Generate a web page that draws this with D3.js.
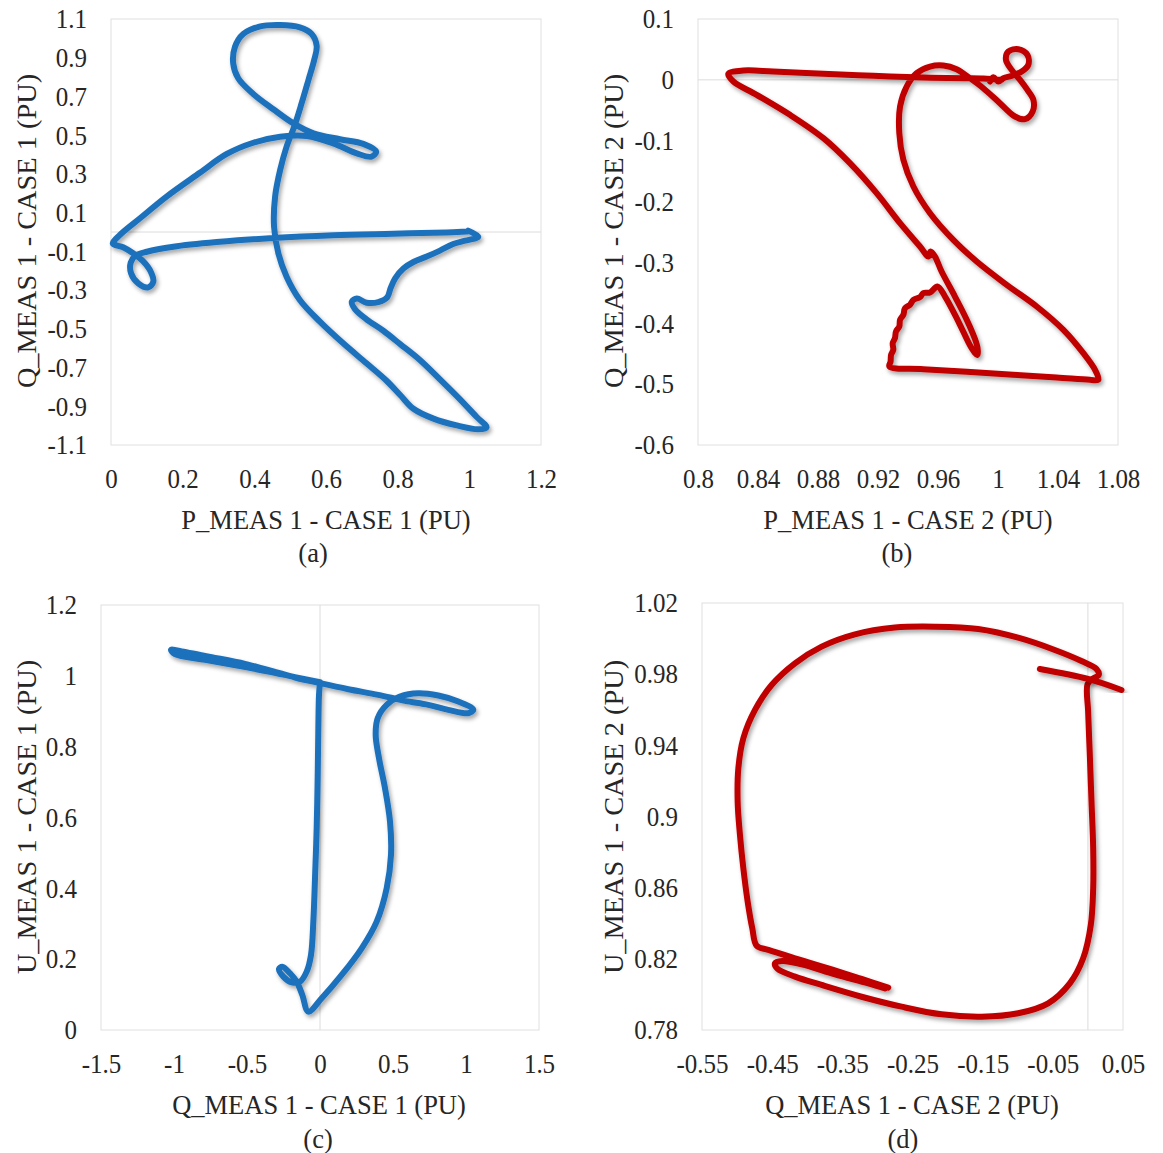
<!DOCTYPE html>
<html>
<head>
<meta charset="utf-8">
<script src="https://cdn.jsdelivr.net/npm/d3@7"></script>
<style>
  body { margin: 0; background: #fff; }
  text { font-family: "Liberation Serif", "Times New Roman", serif; fill: #262626; }
</style>
</head>
<body>
<div id="chart"></div>
<script>
// Tick values for each panel
var ticksA_x = [0, 0.2, 0.4, 0.6, 0.8, 1, 1.2];
var ticksA_y = [-1.1, -0.9, -0.7, -0.5, -0.3, -0.1, 0.1, 0.3, 0.5, 0.7, 0.9, 1.1];
var ticksB_x = [0.8, 0.84, 0.88, 0.92, 0.96, 1, 1.04, 1.08];
var ticksB_y = [-0.6, -0.5, -0.4, -0.3, -0.2, -0.1, 0, 0.1];
var ticksC_x = [-1.5, -1, -0.5, 0, 0.5, 1, 1.5];
var ticksC_y = [0, 0.2, 0.4, 0.6, 0.8, 1, 1.2];
var ticksD_x = [-0.55, -0.45, -0.35, -0.25, -0.15, -0.05, 0.05];
var ticksD_y = [0.78, 0.82, 0.86, 0.9, 0.94, 0.98, 1.02];

// (a) P vs Q, case 1  [P, Q]
var case1PQ = [[0.997,0.007],[1.025,-0.024],[0.988,-0.045],[0.955,-0.062],[0.918,-0.096],[0.881,-0.127],
  [0.844,-0.155],[0.816,-0.189],[0.793,-0.239],[0.780,-0.291],[0.771,-0.337],[0.746,-0.362],[0.713,-0.365],
  [0.686,-0.344],[0.672,-0.360],[0.681,-0.399],[0.713,-0.451],[0.760,-0.510],[0.807,-0.579],[0.862,-0.661],
  [0.918,-0.761],[0.974,-0.864],[1.020,-0.954],[1.048,-1.009],[1.025,-1.019],[0.965,-0.999],[0.900,-0.964],
  [0.844,-0.913],[0.807,-0.842],[0.769,-0.768],[0.713,-0.678],[0.648,-0.575],[0.583,-0.463],[0.527,-0.351],
  [0.490,-0.231],[0.467,-0.110],[0.455,0.028],[0.458,0.183],[0.472,0.320],[0.490,0.441],[0.513,0.553],
  [0.532,0.665],[0.551,0.785],[0.567,0.888],[0.574,0.961],[0.560,1.023],[0.527,1.057],[0.472,1.069],
  [0.414,1.061],[0.369,1.023],[0.346,0.957],[0.341,0.871],[0.355,0.794],[0.397,0.713],[0.453,0.634],
  [0.509,0.561],[0.565,0.510],[0.639,0.479],[0.704,0.455],[0.740,0.415],[0.727,0.389],[0.686,0.406],
  [0.620,0.458],[0.546,0.496],[0.472,0.492],[0.397,0.461],[0.323,0.403],[0.248,0.306],[0.155,0.183],
  [0.081,0.071],[0.025,-0.015],[0.005,-0.059],[0.034,-0.079],[0.062,-0.110],[0.088,-0.148],[0.111,-0.205],
  [0.118,-0.257],[0.104,-0.286],[0.076,-0.265],[0.056,-0.213],[0.055,-0.158],[0.067,-0.124],[0.100,-0.102],
  [0.174,-0.076],[0.295,-0.052],[0.453,-0.031],[0.620,-0.017],[0.788,-0.009],[0.937,-0.002],[0.993,0.002]];

// (b) P vs Q, case 2  [P, Q]
var case2PQ = [[1.0024,0.0000],[0.9969,0.0011],[0.9902,0.0022],[0.9769,0.0027],[0.9502,0.0038],[0.9169,0.0066],
  [0.8836,0.0099],[0.8502,0.0137],[0.8302,0.0153],[0.8202,0.0099],[0.8236,-0.0027],[0.8391,-0.0246],
  [0.8613,-0.0575],[0.8836,-0.0958],[0.9013,-0.1369],[0.9191,-0.1862],[0.9347,-0.2355],[0.9480,-0.2739],
  [0.9536,-0.2903],[0.9551,-0.2821],[0.9580,-0.2903],[0.9624,-0.3150],[0.9713,-0.3560],[0.9802,-0.3998],
  [0.9862,-0.4382],[0.9862,-0.4519],[0.9824,-0.4409],[0.9736,-0.3971],[0.9647,-0.3560],[0.9596,-0.3396],
  [0.9547,-0.3494],[0.9502,-0.3505],[0.9480,-0.3571],[0.9436,-0.3615],[0.9413,-0.3697],[0.9380,-0.3752],
  [0.9369,-0.3861],[0.9347,-0.3943],[0.9342,-0.4053],[0.9320,-0.4135],[0.9313,-0.4245],[0.9298,-0.4327],
  [0.9302,-0.4436],[0.9287,-0.4519],[0.9284,-0.4628],[0.9276,-0.4710],[0.9502,-0.4754],[0.9947,-0.4820],
  [1.0391,-0.4891],[1.0613,-0.4929],[1.0669,-0.4929],[1.0647,-0.4765],[1.0569,-0.4491],[1.0436,-0.4108],
  [1.0258,-0.3724],[1.0058,-0.3368],[0.9858,-0.2985],[0.9702,-0.2629],[0.9547,-0.2191],[0.9436,-0.1753],
  [0.9369,-0.1314],[0.9342,-0.0876],[0.9347,-0.0438],[0.9391,-0.0110],[0.9458,0.0110],[0.9547,0.0219],
  [0.9636,0.0236],[0.9724,0.0175],[0.9813,0.0027],[0.9902,-0.0137],[1.0013,-0.0383],[1.0113,-0.0602],
  [1.0180,-0.0646],[1.0231,-0.0520],[1.0236,-0.0329],[1.0196,-0.0164],[1.0147,0.0000],[1.0091,0.0164],
  [1.0053,0.0329],[1.0069,0.0466],[1.0136,0.0504],[1.0196,0.0411],[1.0202,0.0246],[1.0158,0.0137],
  [1.0091,0.0066],[1.0036,0.0027],[1.0002,-0.0027],[0.9969,0.0044],[0.9947,-0.0027]];

// (c) Q vs U, case 1  [Q, U]
var case1QU = [[0,0.9821],[-0.0068,0.9463],[-0.0114,0.8522],[-0.0160,0.7109],[-0.0228,0.5697],[-0.0342,0.4284],
  [-0.0457,0.3060],[-0.0616,0.2119],[-0.0913,0.1648],[-0.1370,0.1365],[-0.1941,0.1347],[-0.2511,0.1507],
  [-0.2808,0.1723],[-0.2580,0.1789],[-0.2055,0.1601],[-0.1598,0.1365],[-0.1210,0.0989],[-0.0799,0.0518],
  [0.0114,0.0895],[0.1484,0.1554],[0.2854,0.2307],[0.3881,0.3060],[0.4566,0.4002],[0.4863,0.4944],
  [0.4795,0.5885],[0.4452,0.6827],[0.4041,0.7674],[0.3813,0.8333],[0.3950,0.8804],[0.4566,0.9181],
  [0.5479,0.9416],[0.6735,0.9510],[0.8105,0.9444],[0.9475,0.9275],[1.0502,0.9040],[1.0160,0.8945],
  [0.8790,0.9040],[0.7420,0.9181],[0.5822,0.9294],[0.3995,0.9463],[0.1941,0.9623],[0,0.9793],
  [-0.1712,0.9953],[-0.3311,1.0141],[-0.5137,1.0339],[-0.7420,1.0527],[-0.9475,1.0687],[-1.0205,1.0734],
  [-0.9932,1.0612],[-0.7877,1.0452],[-0.5594,1.0282],[-0.3539,1.0122],[-0.1712,0.9962],[0,0.9821]];

// (d) Q vs U, case 2  [Q, U] - main loop and the short jump segment
var case2QU = [[-0.2846,0.8038],[-0.3226,0.8087],[-0.3700,0.8147],[-0.4175,0.8203],[-0.4555,0.8250],
  [-0.4721,0.8274],[-0.4783,0.8371],[-0.4849,0.8521],[-0.4911,0.8709],[-0.4959,0.8896],[-0.4992,0.9084],
  [-0.4982,0.9271],[-0.4911,0.9440],[-0.4745,0.9599],[-0.4508,0.9739],[-0.4175,0.9861],[-0.3795,0.9955],
  [-0.3320,1.0024],[-0.2751,1.0062],[-0.2181,1.0067],[-0.1564,1.0054],[-0.0994,1.0005],[-0.0472,0.9936],
  [-0.0092,0.9874],[0.0122,0.9829],[0.0155,0.9796],[0.0060,0.9773],[-0.0006,0.9743],[0.0003,0.9589],
  [0.0027,0.9346],[0.0051,0.9084],[0.0075,0.8821],[0.0075,0.8596],[0.0041,0.8390],[-0.0068,0.8203],
  [-0.0258,0.8062],[-0.0567,0.7950],[-0.0994,0.7894],[-0.1516,0.7875],[-0.2086,0.7888],[-0.2656,0.7931],
  [-0.3226,0.7987],[-0.3795,0.8053],[-0.4175,0.8100],[-0.4422,0.8143],[-0.4460,0.8175],[-0.4356,0.8188],
  [-0.4080,0.8169],[-0.3605,0.8113],[-0.3131,0.8062],[-0.2893,0.8034]];
var case2QUjump = [[-0.0685,0.9829],[0.0003,0.9773],[0.0478,0.9711]];

var blue = "#1f71bd";
var red = "#c00000";
var stretch = 1.07; // picture is slightly taller than wide

var panels = [
  { series: [case1PQ], color: blue, left: 111, top: 19, width: 430, height: 426,
    xDomain: [0, 1.2], yDomain: [-1.1, 1.1], xTicks: ticksA_x, yTicks: ticksA_y, grid: "h",
    xTitle: "P_MEAS 1 - CASE 1 (PU)", yTitle: "Q_MEAS 1 - CASE 1 (PU)", caption: "(a)",
    xTitlePos: [326, 529], yTitlePos: [36, 231], capPos: [313, 562] },
  { series: [case2PQ], color: red, left: 698, top: 19, width: 420, height: 426,
    xDomain: [0.8, 1.08], yDomain: [-0.6, 0.1], xTicks: ticksB_x, yTicks: ticksB_y, grid: "h",
    xTitle: "P_MEAS 1 - CASE 2 (PU)", yTitle: "Q_MEAS 1 - CASE 2 (PU)", caption: "(b)",
    xTitlePos: [908, 529], yTitlePos: [623, 231], capPos: [897, 562] },
  { series: [case1QU], color: blue, left: 101, top: 605, width: 438, height: 425,
    xDomain: [-1.5, 1.5], yDomain: [0, 1.2], xTicks: ticksC_x, yTicks: ticksC_y, grid: "v",
    xTitle: "Q_MEAS 1 - CASE 1 (PU)", yTitle: "U_MEAS 1 - CASE 1 (PU)", caption: "(c)",
    xTitlePos: [319, 1114], yTitlePos: [36, 817], capPos: [318, 1148] },
  { series: [case2QU, case2QUjump], color: red, left: 702, top: 603, width: 421, height: 427,
    xDomain: [-0.55, 0.05], yDomain: [0.78, 1.02], xTicks: ticksD_x, yTicks: ticksD_y, grid: "v",
    xTitle: "Q_MEAS 1 - CASE 2 (PU)", yTitle: "U_MEAS 1 - CASE 2 (PU)", caption: "(d)",
    xTitlePos: [912, 1114], yTitlePos: [623, 817], capPos: [903, 1148] }
];

var svg = d3.select("#chart")
  .append("svg")
  .attr("width", 1163)
  .attr("height", 1153);

// soft shadow under the curves
var filter = svg.append("defs").append("filter")
  .attr("id", "shadow")
  .attr("x", "-10%").attr("y", "-10%")
  .attr("width", "120%").attr("height", "120%");
filter.append("feDropShadow")
  .attr("dx", 2).attr("dy", 3)
  .attr("stdDeviation", 2)
  .attr("flood-color", "#000")
  .attr("flood-opacity", 0.35);

function fmt(d) {
  return String(+d.toFixed(2));
}

panels.forEach(function (p) {
  var x = d3.scaleLinear().domain(p.xDomain).range([0, p.width]);
  var y = d3.scaleLinear().domain(p.yDomain).range([p.height, 0]);

  var g = svg.append("g")
    .attr("transform", `translate(${p.left}, ${p.top})`);

  // plot area border
  g.append("rect")
    .attr("width", p.width)
    .attr("height", p.height)
    .attr("fill", "none")
    .attr("stroke", "#e0e0e0")
    .attr("stroke-width", 1);

  // zero gridline
  if (p.grid === "h") {
    g.append("line")
      .attr("x1", 0).attr("x2", p.width)
      .attr("y1", y(0)).attr("y2", y(0))
      .attr("stroke", "#dcdcdc");
  } else {
    g.append("line")
      .attr("x1", x(0)).attr("x2", x(0))
      .attr("y1", 0).attr("y2", p.height)
      .attr("stroke", "#dcdcdc");
  }

  // x axis
  var xAxis = g.append("g")
    .attr("transform", `translate(0, ${p.height})`)
    .call(d3.axisBottom(x).tickValues(p.xTicks).tickSize(0).tickFormat(fmt));
  xAxis.select(".domain").remove();
  xAxis.attr("font-size", null).attr("font-family", null);
  xAxis.selectAll("text")
    .style("font-size", "25px")
    .attr("fill", "#262626")
    .attr("y", 43 / stretch)
    .attr("dy", 0)
    .attr("transform", `scale(1, ${stretch})`);

  // y axis
  var yAxis = g.append("g")
    .call(d3.axisLeft(y).tickValues(p.yTicks).tickSize(0).tickFormat(fmt));
  yAxis.select(".domain").remove();
  yAxis.attr("font-size", null).attr("font-family", null);
  yAxis.selectAll("text")
    .style("font-size", "25px")
    .attr("fill", "#262626")
    .attr("x", -24)
    .attr("dy", "0.33em")
    .attr("transform", `scale(1, ${stretch})`);

  // curves
  var line = d3.line()
    .x(d => x(d[0]))
    .y(d => y(d[1]))
    .curve(d3.curveCatmullRom.alpha(0.5));

  g.selectAll("path.curve")
    .data(p.series)
    .enter()
    .append("path")
    .attr("class", "curve")
    .attr("d", line)
    .attr("fill", "none")
    .attr("stroke", p.color)
    .attr("stroke-width", 6)
    .attr("stroke-linecap", "round")
    .attr("stroke-linejoin", "round")
    .attr("filter", "url(#shadow)");

  // axis titles and caption
  svg.append("text")
    .attr("transform", `translate(${p.xTitlePos[0]}, ${p.xTitlePos[1]}) scale(1, ${stretch})`)
    .style("font-size", "26.5px")
    .style("text-anchor", "middle")
    .text(p.xTitle);

  svg.append("text")
    .attr("transform", `translate(${p.yTitlePos[0]}, ${p.yTitlePos[1]}) rotate(-90) scale(${stretch}, 1)`)
    .style("font-size", "26.5px")
    .style("text-anchor", "middle")
    .text(p.yTitle);

  svg.append("text")
    .attr("transform", `translate(${p.capPos[0]}, ${p.capPos[1]}) scale(1, ${stretch})`)
    .style("font-size", "26.5px")
    .style("text-anchor", "middle")
    .text(p.caption);
});
</script>
</body>
</html>
